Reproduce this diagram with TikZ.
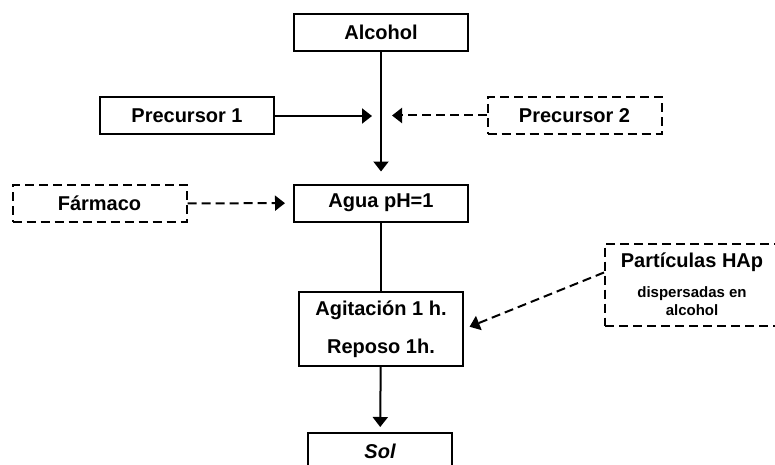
\documentclass[tikz,border=0pt]{standalone}
\usepackage{fontspec}
\setmainfont{Liberation Sans}
\usepackage{tikz}
\usetikzlibrary{arrows.meta,positioning}

\begin{document}
\begin{tikzpicture}[
			x=1pt,y=-1pt,
			->,>={Triangle[length=10pt,width=15pt]},
			line width=2pt,
			stepbox/.style={
				draw=black,
				line width=2pt,
				rectangle,
				minimum width=174pt,
				minimum height=37pt,
				inner sep=2pt,
				align=center,
				font=\bfseries\fontsize{20}{24}\selectfont
			},
			dashbox/.style={
				stepbox,
				dash pattern=on 9pt off 5pt
			},
			dashline/.style={dash pattern=on 9pt off 5pt}
			]
			\useasboundingbox (0,0) rectangle (775,465);
			\clip (0,0) rectangle (775,465);
			% Main column
			\node[stepbox] (alcohol) at (381,32.5) {Alcohol};
			\node[stepbox] (agua) at (381,203) {Agua pH=1};
			\node[stepbox, minimum width=164pt, minimum height=74pt,
				font=\bfseries\fontsize{20}{38}\selectfont] (agit) at (381,329) {Agitación 1 h.\\Reposo 1h.};
			\node[stepbox, minimum width=144pt] (sol) at (380,451.5) {\itshape Sol};
			
			% Inputs on both sides
			\node[stepbox] (prec1) at (187,116) {Precursor 1};
			\node[dashbox] (prec2) at (574.5,115.5) {Precursor 2};
			\node[dashbox] (farmaco) at (99.5,203.5) {Fármaco};
			\node[dashbox, minimum height=82pt, font=\bfseries\fontsize{15}{18}\selectfont] (hap) at (692,284.5)
				{{\fontsize{20}{24}\selectfont Partículas HAp}\\[12pt]dispersadas en\\alcohol};
			
			% Arrow ends next to the main line
			\coordinate (in1) at (372,116);
			\coordinate (in2) at (392,115.5);
			
			% Connectors
			\draw[->, shorten >=12pt] (alcohol) -- (agua);
			\draw[->] (prec1) -- (in1);
			\draw[->, dashline] (prec2) -- (in2);
			\draw[->, dashline, shorten >=8pt] (farmaco) -- (agua);
			\draw[-] (agua) -- (agit);
			\draw[->, dashline, shorten >=6pt] ([yshift=12pt]hap.west) -- (agit.east);
			\draw[->, shorten >=5pt] (agit) -- (sol);
		\end{tikzpicture}
\end{document}
